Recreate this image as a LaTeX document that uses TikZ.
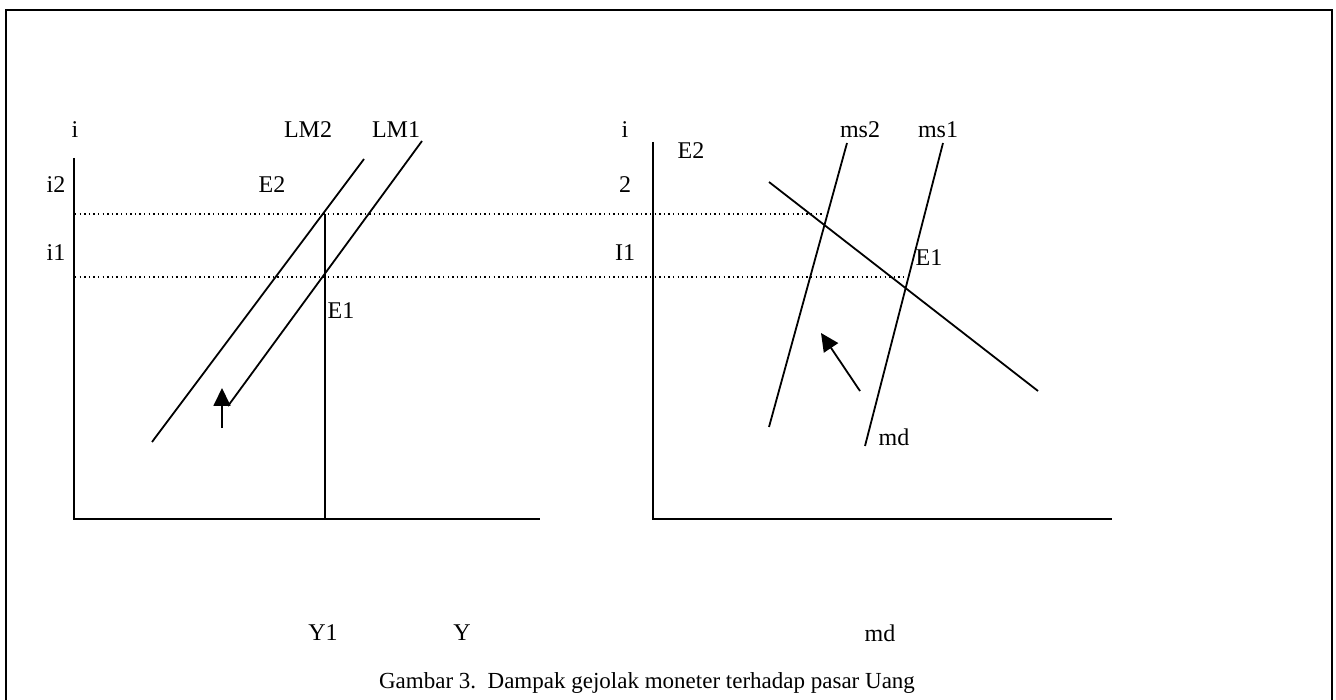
\documentclass[tikz,border=0pt]{standalone}
\usepackage{fontspec}
\setmainfont{Liberation Serif}
\usetikzlibrary{arrows.meta}
\begin{document}
\begin{tikzpicture}[x=1pt,y=-1pt,
  lbl/.style={font=\fontsize{24}{26}\selectfont, inner sep=0pt, anchor=center},
  captxt/.style={font=\fontsize{23}{25}\selectfont, inner sep=0pt, anchor=center},
  curve/.style={line width=1.8pt},
  axis/.style={line width=2.2pt},
  guide/.style={line width=1.3pt, dash pattern=on 1.4pt off 3.2pt},
  frame/.style={line width=1.8pt},
  movearrow/.style={line width=1.8pt, -{Triangle[length=18pt,width=17pt]}}]
\useasboundingbox (0,0) rectangle (1336,700);
% frame (open at bottom)
\draw[frame] (6,705) -- (6,10) -- (1332,10) -- (1332,705);
% ---------- left panel ----------
\coordinate (LO) at (74,519);
\coordinate (LT) at (74,158);
\coordinate (LX) at (540,519);
\draw[axis] (LT) -- (LO) -- (LX);
\coordinate (A2) at (75,214);
\coordinate (A1) at (75,277);
\coordinate (E2L) at (325,214);
\coordinate (E1L) at (325,277);
\coordinate (Y1B) at (325,519);
\coordinate (R2) at (824,214);
\coordinate (R1) at (904,277);
\draw[guide] (A2) -- (R2);
\draw[guide] (A1) -- (R1);
\draw[curve] (E2L) -- (Y1B);
\coordinate (LM2a) at (152,442);
\coordinate (LM2b) at (364,159);
\coordinate (LM1a) at (228,406);
\coordinate (LM1b) at (422,141);
\draw[curve] (LM2a) -- (LM2b);
\draw[curve] (LM1a) -- (LM1b);
\coordinate (arLa) at (222,428);
\coordinate (arLb) at (222,388);
\draw[movearrow] (arLa) -- (arLb);
\node[lbl] (iL) at (75,130) {i};
\node[lbl] (lm2) at (308,130) {LM2};
\node[lbl] (lm1) at (396,130) {LM1};
\node[lbl] (i2) at (56,185) {i2};
\node[lbl] (i1) at (56,253) {i1};
\node[lbl] (e2l) at (272,185) {E2};
\node[lbl] (e1l) at (341,311) {E1};
\node[lbl] (y1) at (323,633) {Y1};
\node[lbl] (y) at (462,633) {Y};
% ---------- right panel ----------
\coordinate (RO) at (653,519);
\coordinate (RT) at (653,142);
\coordinate (RX) at (1112,519);
\draw[axis] (RT) -- (RO) -- (RX);
\coordinate (mda) at (769,182);
\coordinate (mdb) at (1038,391);
\coordinate (ms2a) at (847,143);
\coordinate (ms2b) at (769,427);
\coordinate (ms1a) at (943,143);
\coordinate (ms1b) at (865,446);
\draw[curve] (mda) -- (mdb);
\draw[curve] (ms2a) -- (ms2b);
\draw[curve] (ms1a) -- (ms1b);
\coordinate (arRa) at (860,391);
\coordinate (arRb) at (821,333);
\draw[movearrow] (arRa) -- (arRb);
\node[lbl] (iR) at (625,130) {i};
\node[lbl] (ms2) at (860,130) {ms2};
\node[lbl] (ms1) at (938,130) {ms1};
\node[lbl] (e2r) at (691,151) {E2};
\node[lbl] (two) at (625,185) {2};
\node[lbl] (I1) at (625,253) {I1};
\node[lbl] (e1r) at (929,258) {E1};
\node[lbl] (mdl) at (894,437) {md};
\node[lbl] (mdx) at (880,633) {md};
% caption
\node[captxt] (cap) at (647,683) {Gambar 3.\ \ Dampak gejolak moneter terhadap pasar Uang};
\end{tikzpicture}
\end{document}
